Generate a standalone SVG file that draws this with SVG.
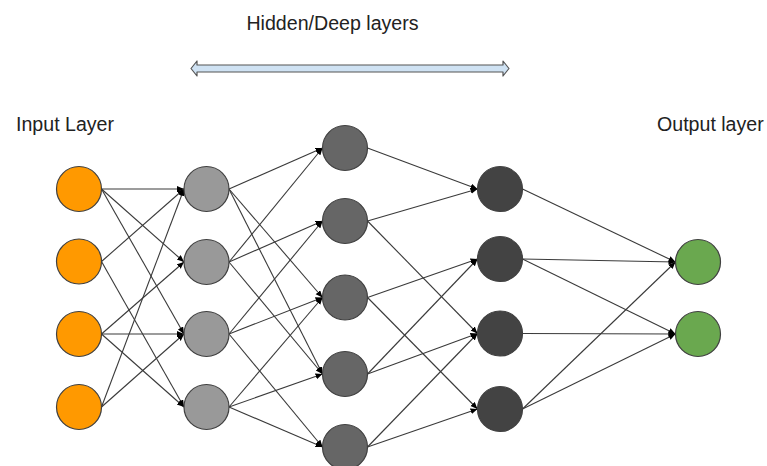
<svg xmlns="http://www.w3.org/2000/svg" width="767" height="466" viewBox="0 0 767 466">
<style>
.lbl{font-family:"Liberation Sans",Arial,sans-serif;font-size:19.6px;fill:#222}
.n{stroke:#404040;stroke-width:1.2}
.in{fill:#ff9900}
.h1{fill:#999999}
.h2{fill:#666666}
.h3{fill:#434343}
.out{fill:#6aa84f}
.e{stroke:#3a3a3a;stroke-width:1.1;fill:none;marker-end:url(#ah)}
</style>
<defs>
<marker id="ah" markerUnits="userSpaceOnUse" markerWidth="8" markerHeight="7" refX="7" refY="3" orient="auto">
<path d="M0,0 L7,3 L0,6 z" fill="#000"/>
</marker>
</defs>
<rect width="767" height="466" fill="#fff"/>
<g id="title"><text class="lbl" x="332.5" y="30" text-anchor="middle">Hidden/Deep layers</text></g>
<g id="span-arrow"><polygon points="191,68.5 197,61 197,65 503,65 503,61 509,68.5 503,76 503,72 197,72 197,76" fill="#cfe2f3" stroke="#555" stroke-width="1.2" stroke-linejoin="round"/></g>
<g id="input-label"><text class="lbl" x="16" y="131">Input Layer</text></g>
<g id="output-label"><text class="lbl" x="657" y="131">Output layer</text></g>
<g id="connectors">
<!-- input -> hidden1 -->
<line class="e" x1="101.5" y1="189" x2="184" y2="189"/>
<line class="e" x1="101.5" y1="189" x2="184" y2="262"/>
<line class="e" x1="101.5" y1="189" x2="184" y2="334"/>
<line class="e" x1="101.5" y1="261.5" x2="184" y2="189"/>
<line class="e" x1="101.5" y1="261.5" x2="184" y2="407"/>
<line class="e" x1="101.5" y1="334" x2="184" y2="262"/>
<line class="e" x1="101.5" y1="334" x2="184" y2="334"/>
<line class="e" x1="101.5" y1="334" x2="184" y2="407"/>
<line class="e" x1="101.5" y1="407" x2="184" y2="189"/>
<line class="e" x1="101.5" y1="407" x2="184" y2="334"/>
<!-- hidden1 -> hidden2 -->
<line class="e" x1="229" y1="189" x2="322.5" y2="148"/>
<line class="e" x1="229" y1="189" x2="322.5" y2="297.5"/>
<line class="e" x1="229" y1="189" x2="322.5" y2="374"/>
<line class="e" x1="229" y1="262" x2="322.5" y2="148"/>
<line class="e" x1="229" y1="262" x2="322.5" y2="221"/>
<line class="e" x1="229" y1="262" x2="322.5" y2="374"/>
<line class="e" x1="229" y1="334" x2="322.5" y2="221"/>
<line class="e" x1="229" y1="334" x2="322.5" y2="297.5"/>
<line class="e" x1="229" y1="334" x2="322.5" y2="447"/>
<line class="e" x1="229" y1="407" x2="322.5" y2="297.5"/>
<line class="e" x1="229" y1="407" x2="322.5" y2="374"/>
<line class="e" x1="229" y1="407" x2="322.5" y2="447"/>
<!-- hidden2 -> hidden3 -->
<line class="e" x1="367.5" y1="148" x2="477.5" y2="189"/>
<line class="e" x1="367.5" y1="221" x2="477.5" y2="189"/>
<line class="e" x1="367.5" y1="221" x2="477.5" y2="333.5"/>
<line class="e" x1="367.5" y1="297.5" x2="477.5" y2="259"/>
<line class="e" x1="367.5" y1="297.5" x2="477.5" y2="409"/>
<line class="e" x1="367.5" y1="374" x2="477.5" y2="259"/>
<line class="e" x1="367.5" y1="374" x2="477.5" y2="333.5"/>
<line class="e" x1="367.5" y1="447" x2="477.5" y2="333.5"/>
<line class="e" x1="367.5" y1="447" x2="477.5" y2="409"/>
<!-- hidden3 -> output -->
<line class="e" x1="522.5" y1="189" x2="675.5" y2="262"/>
<line class="e" x1="522.5" y1="259" x2="675.5" y2="262"/>
<line class="e" x1="522.5" y1="259" x2="675.5" y2="334"/>
<line class="e" x1="522.5" y1="333.5" x2="675.5" y2="334"/>
<line class="e" x1="522.5" y1="409" x2="675.5" y2="262"/>
<line class="e" x1="522.5" y1="409" x2="675.5" y2="334"/>
</g>
<g id="in1"><circle class="n in" cx="79" cy="189" r="22.5"/></g>
<g id="in2"><circle class="n in" cx="79" cy="261.5" r="22.5"/></g>
<g id="in3"><circle class="n in" cx="79" cy="334" r="22.5"/></g>
<g id="in4"><circle class="n in" cx="79" cy="407" r="22.5"/></g>
<g id="h1-1"><circle class="n h1" cx="206.5" cy="189" r="22.5"/></g>
<g id="h1-2"><circle class="n h1" cx="206.5" cy="262" r="22.5"/></g>
<g id="h1-3"><circle class="n h1" cx="206.5" cy="334" r="22.5"/></g>
<g id="h1-4"><circle class="n h1" cx="206.5" cy="407" r="22.5"/></g>
<g id="h2-1"><circle class="n h2" cx="345" cy="148" r="22.5"/></g>
<g id="h2-2"><circle class="n h2" cx="345" cy="221" r="22.5"/></g>
<g id="h2-3"><circle class="n h2" cx="345" cy="297.5" r="22.5"/></g>
<g id="h2-4"><circle class="n h2" cx="345" cy="374" r="22.5"/></g>
<g id="h2-5"><circle class="n h2" cx="345" cy="447" r="22.5"/></g>
<g id="h3-1"><circle class="n h3" cx="500" cy="189" r="22.5"/></g>
<g id="h3-2"><circle class="n h3" cx="500" cy="259" r="22.5"/></g>
<g id="h3-3"><circle class="n h3" cx="500" cy="333.5" r="22.5"/></g>
<g id="h3-4"><circle class="n h3" cx="500" cy="409" r="22.5"/></g>
<g id="out1"><circle class="n out" cx="698" cy="262" r="22.5"/></g>
<g id="out2"><circle class="n out" cx="698" cy="334" r="22.5"/></g>
</svg>
